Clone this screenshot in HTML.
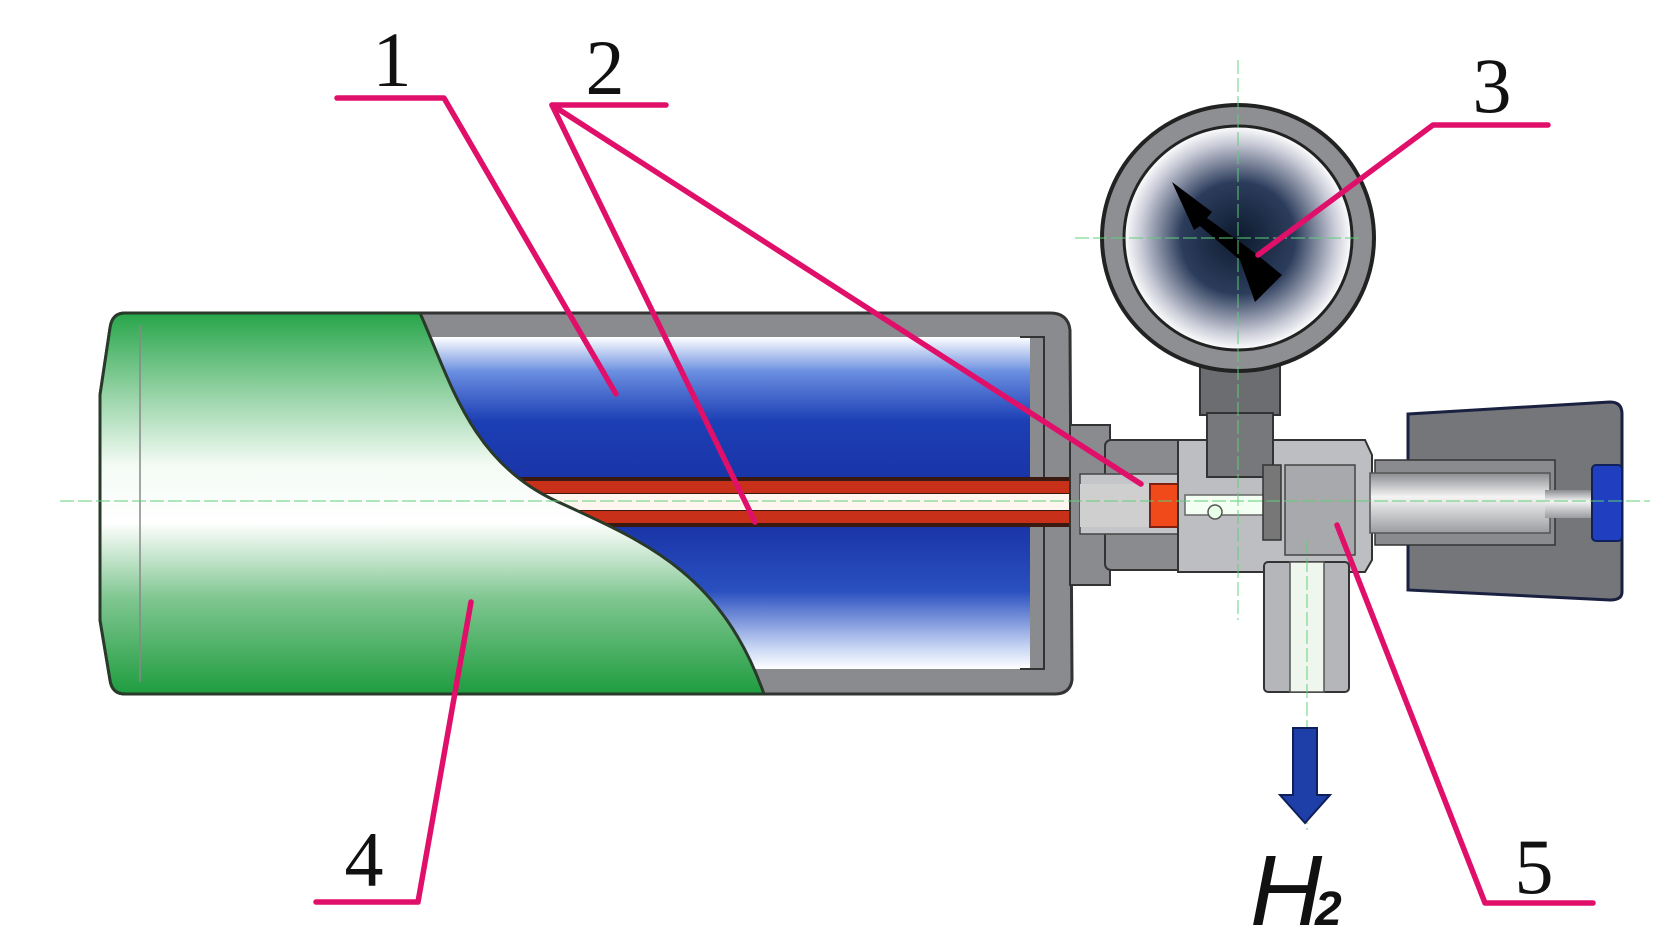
<!DOCTYPE html>
<html><head><meta charset="utf-8"><style>
html,body{margin:0;padding:0;background:#fff;width:1679px;height:947px;overflow:hidden}
svg{display:block}
</style></head><body>
<svg width="1679" height="947" viewBox="0 0 1679 947" xmlns="http://www.w3.org/2000/svg">
<defs>
<linearGradient id="blue" x1="0" y1="0" x2="0" y2="1">
<stop offset="0" stop-color="#ffffff"/><stop offset="0.25" stop-color="#6a8ee0"/><stop offset="0.6" stop-color="#1c3fb5"/><stop offset="1" stop-color="#1a35a8"/>
</linearGradient>
<linearGradient id="blue2" x1="0" y1="0" x2="0" y2="1">
<stop offset="0" stop-color="#1a35a8"/><stop offset="0.45" stop-color="#2a50c0"/><stop offset="0.85" stop-color="#c8d6f4"/><stop offset="1" stop-color="#ffffff"/>
</linearGradient>
<linearGradient id="green" x1="0" y1="0" x2="0" y2="1">
<stop offset="0" stop-color="#27a54a"/><stop offset="0.2" stop-color="#8fd0a0"/><stop offset="0.4" stop-color="#f4fbf5"/><stop offset="0.55" stop-color="#ffffff"/><stop offset="0.75" stop-color="#7fc690"/><stop offset="1" stop-color="#1f9d40"/>
</linearGradient>
<radialGradient id="dial" cx="0.5" cy="0.5" r="0.5">
<stop offset="0" stop-color="#0d1a2e"/><stop offset="0.5" stop-color="#2c3d5c"/><stop offset="0.85" stop-color="#c8cad6"/><stop offset="1" stop-color="#ffffff"/>
</radialGradient>
<linearGradient id="metal" x1="0" y1="0" x2="0" y2="1">
<stop offset="0" stop-color="#8a8c90"/><stop offset="0.4" stop-color="#f4f4f4"/><stop offset="1" stop-color="#9a9ca0"/>
</linearGradient>
</defs>

<!-- cylinder shell -->
<path d="M125,313 L1050,313 Q1068,313 1070,330 L1072,680 Q1070,694 1055,694 L125,694 Q112,694 110,680 L100,620 L100,395 L110,328 Q112,313 125,313 Z" fill="#8a8b8e" stroke="#333" stroke-width="3"/>
<rect x="428" y="337" width="616" height="140" fill="url(#blue)"/>
<rect x="428" y="527" width="616" height="142" fill="url(#blue2)"/>
<rect x="1030" y="337" width="14" height="332" fill="#8a8b8e"/>
<path d="M1020,337 L1044,337 L1044,669 L1020,669" fill="none" stroke="#333" stroke-width="2"/>
<!-- tube -->
<rect x="500" y="477" width="650" height="50" fill="#3a1a10"/>
<rect x="500" y="481" width="650" height="12" fill="#c8301a"/>
<rect x="500" y="511" width="650" height="12" fill="#c8301a"/>
<rect x="500" y="494" width="650" height="16" fill="#fff6f0"/>
<!-- green outer -->
<path d="M125,313 L420,313 C450,380 470,460 554,500 C640,540 720,570 764,694 L125,694 Q112,694 110,680 L100,620 L100,395 L110,328 Q112,313 125,313 Z" fill="url(#green)" stroke="#2a3a2a" stroke-width="3"/>
<line x1="140" y1="325" x2="140" y2="682" stroke="#888" stroke-width="1.5"/>

<!-- neck & nut -->
<rect x="1070" y="425" width="40" height="160" fill="#8a8b8e" stroke="#333" stroke-width="2"/>
<rect x="1105" y="440" width="80" height="130" rx="6" fill="#8a8b8e" stroke="#333" stroke-width="2"/>
<rect x="1080" y="474" width="110" height="60" fill="#c4c5c8" stroke="#444" stroke-width="1.5"/>
<rect x="1080" y="484" width="107" height="43" fill="#cfcfcf"/>
<rect x="1150" y="484" width="37" height="43" fill="#f04a1a" stroke="#802010" stroke-width="2"/>
<!-- valve body -->
<path d="M1178,440 L1365,440 L1372,455 L1372,560 L1365,572 L1178,572 Z" fill="#bdbec1" stroke="#333" stroke-width="2"/>
<rect x="1185" y="495" width="90" height="20" fill="#f4fff4" stroke="#666" stroke-width="1.5"/>
<circle cx="1215" cy="512" r="7" fill="#e8ffe8" stroke="#555" stroke-width="1.5"/>
<!-- gauge stem -->
<rect x="1200" y="353" width="80" height="62" fill="#6c6d70" stroke="#333" stroke-width="2"/>
<rect x="1207" y="413" width="66" height="64" fill="#77787b" stroke="#333" stroke-width="2"/>
<!-- gauge -->
<ellipse cx="1238" cy="238" rx="136" ry="133" fill="#8e8f93" stroke="#222" stroke-width="4"/>
<ellipse cx="1238" cy="238" rx="114" ry="112" fill="url(#dial)" stroke="#222" stroke-width="3"/>
<path d="M1172,182 L1212,212 L1207,218 L1255,253 L1282,275 L1255,302 L1240,260 L1200,226 L1194,230 Z" fill="#000"/>
<!-- outlet -->
<rect x="1264" y="562" width="85" height="130" rx="4" fill="#b5b6b9" stroke="#333" stroke-width="2"/>
<rect x="1290" y="562" width="34" height="130" fill="#eef6ee" stroke="#555" stroke-width="1.5"/>
<!-- inner valve -->
<rect x="1263" y="465" width="18" height="75" fill="#777" stroke="#333" stroke-width="1.5"/>
<rect x="1285" y="465" width="70" height="90" fill="#a8a9ac" stroke="#444" stroke-width="1.5"/>
<!-- knob -->
<path d="M1408,414 L1610,402 Q1622,402 1622,414 L1622,592 Q1622,600 1610,600 L1408,590 Z" fill="#75767a" stroke="#1a2040" stroke-width="3"/>
<rect x="1375" y="460" width="180" height="85" fill="#8a8b8e" stroke="#333" stroke-width="1.5"/>
<rect x="1370" y="473" width="180" height="60" fill="url(#metal)" stroke="#555" stroke-width="1.5"/>
<rect x="1545" y="490" width="50" height="28" fill="url(#metal)"/>
<rect x="1592" y="465" width="30" height="76" rx="4" fill="#1f3fc0" stroke="#10205a" stroke-width="2"/>

<!-- center lines -->
<g stroke="#5fcf7a" stroke-width="1.2" stroke-dasharray="14 4" opacity="0.8" fill="none">
<line x1="60" y1="501" x2="1650" y2="501"/>
<line x1="1238" y1="60" x2="1238" y2="620"/>
<line x1="1075" y1="238" x2="1360" y2="238"/>
<line x1="1307" y1="540" x2="1307" y2="830"/>
</g>

<!-- arrow -->
<path d="M1293,728 L1317,728 L1317,795 L1330,795 L1305,823 L1280,795 L1293,795 Z" fill="#1f3fa8" stroke="#0e1f5a" stroke-width="2"/>
<text x="1250" y="925" font-family="'Liberation Sans',sans-serif" font-style="italic" font-size="100" fill="#111">H</text>
<text x="1315" y="925" font-family="'Liberation Sans',sans-serif" font-style="italic" font-weight="bold" font-size="48" fill="#111">2</text>

<!-- leaders -->
<g stroke="#e0106a" stroke-width="5.5" fill="none" stroke-linecap="round" stroke-linejoin="round">
<polyline points="337,98 444,98 616,394"/>
<polyline points="666,105 552,105 755,522"/>
<line x1="552" y1="105" x2="1141" y2="484"/>
<polyline points="1548,125 1433,125 1258,255"/>
<polyline points="316,902 418,902 471,602"/>
<polyline points="1593,903 1485,903 1337,525"/>
</g>

<g font-family="'Liberation Serif',serif" font-size="78" fill="#111" text-anchor="middle">
<text x="392" y="86">1</text>
<text x="605" y="94">2</text>
<text x="1492" y="112">3</text>
<text x="364" y="886">4</text>
<text x="1534" y="893">5</text>
</g>
</svg>
</body></html>
